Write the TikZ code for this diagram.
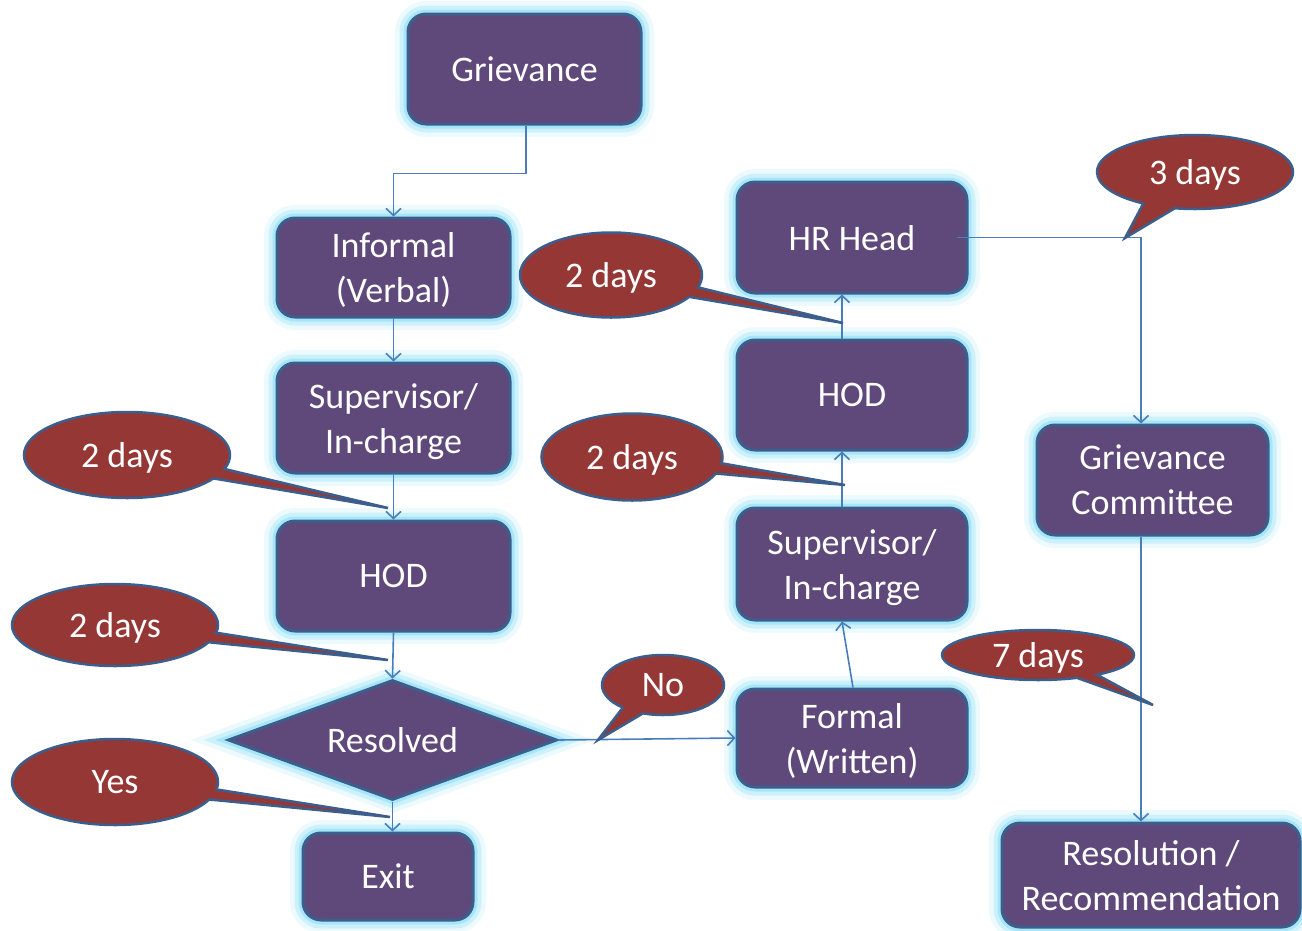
\documentclass[tikz,border=0pt]{standalone}
\usepackage{fontspec}
\setmainfont{Carlito}
\usetikzlibrary{shapes.geometric,shapes.callouts,arrows.meta}
\definecolor{boxfill}{HTML}{5F497A}
\definecolor{boxline}{HTML}{3B5E8C}
\definecolor{glowc}{HTML}{9FE4F7}
\definecolor{callfill}{HTML}{953735}
\definecolor{conncol}{HTML}{4A7EBB}
\begin{document}
\begin{tikzpicture}[x=1pt,y=-1pt,
  font=\fontsize{36}{45}\selectfont,
  glowing/.style={preaction={draw=glowc,line width=26pt,opacity=0.2},
                  preaction={draw=glowc,line width=17pt,opacity=0.4},
                  preaction={draw=glowc,line width=9pt,opacity=0.85}},
  box/.style={glowing, draw=boxline, line width=3pt, fill=boxfill, rounded corners=18pt,
              text=white, align=center, inner sep=0pt, text depth=0pt},
  decision/.style={glowing, diamond, draw=boxline, line width=3pt, fill=boxfill,
              text=white, inner sep=0pt, text depth=0pt},
  call/.style={ellipse callout, draw=boxline, line width=2.5pt, fill=callfill,
              text=white, inner sep=0pt, text depth=0pt, callout pointer arc=14},
  conn/.style={draw=conncol, line width=1.6pt, -{Straight Barb[length=7pt,width=15pt]}}]
\useasboundingbox (0,0) rectangle (1302,930);
% boxes
\node[box, minimum width=233pt, minimum height=110pt] (griev) at (524.5,69) {Grievance};
\node[box, minimum width=233pt, minimum height=99pt] (inf) at (393.5,267.5) {Informal\\(Verbal)};
\node[box, minimum width=233pt, minimum height=110pt] (sup1) at (393.5,418) {Supervisor/\\In-charge};
\node[box, minimum width=233pt, minimum height=110pt] (hod1) at (393.5,576) {HOD};
\node[decision, aspect=2.74, minimum width=329pt, minimum height=120pt] (resd) at (392.5,740) {Resolved};
\node[box, minimum width=170pt, minimum height=87pt] (exit) at (388,876.5) {Exit};
\node[box, minimum width=230pt, minimum height=111pt] (hr) at (852,237.5) {HR Head};
\node[box, minimum width=230pt, minimum height=110pt] (hod2) at (852,395) {HOD};
\node[box, minimum width=230pt, minimum height=112pt] (sup2) at (852,564) {Supervisor/\\In-charge};
\node[box, minimum width=230pt, minimum height=98pt] (formal) at (852,738) {Formal\\(Written)};
\node[box, minimum width=231pt, minimum height=110pt] (gc) at (1152.5,480) {Grievance\\Committee};
\node[box, minimum width=298pt, minimum height=104pt] (res) at (1151,875) {Resolution /\\Recommendation};
% connectors
\draw[conn] ([xshift=1.5pt]griev.south) -- ++(0,48) -| (inf.north);
\draw[conn] (inf.south) -- (sup1.north);
\draw[conn] (sup1.south) -- (hod1.north);
\draw[conn] (hod1.south) -- (resd.north);
\draw[conn] (resd.south) -- (resd.south |- exit.north);
\draw[conn] (resd.east) -- (formal.west);
\draw[conn] ([xshift=1pt]formal.north) -- ([xshift=-10pt]sup2.south);
\draw[conn] ([xshift=-10pt]sup2.north) -- ([xshift=-10pt]hod2.south);
\draw[conn] ([xshift=-10pt]hod2.north) -- ([xshift=-10pt]hr.south);
\draw[conn] ([xshift=-12pt]hr.east) -| ([xshift=-11.5pt]gc.north);
\draw[conn] ([xshift=-11.5pt]gc.south) -- ([xshift=-11.5pt]gc.south |- res.north);
% callout tips
\coordinate (t1) at (388,508);
\coordinate (t2) at (388,660);
\coordinate (t3) at (390,817);
\coordinate (t4) at (598,740);
\coordinate (t5) at (843,323);
\coordinate (t6) at (845,485);
\coordinate (t7) at (1125,238);
\coordinate (t8) at (1153,705);
% callouts
\node[call, minimum width=206pt, minimum height=86pt, callout absolute pointer={(t1)}] (c1) at (127,455) {2 days};
\node[call, minimum width=206pt, minimum height=82pt, callout absolute pointer={(t2)}] (c2) at (115,625) {2 days};
\node[call, minimum width=206pt, minimum height=86pt, callout absolute pointer={(t3)}] (c3) at (115,782) {Yes};
\node[call, minimum width=122pt, minimum height=60pt, callout absolute pointer={(t4)}, callout pointer arc=22] (c4) at (663,685) {No};
\node[call, minimum width=182pt, minimum height=85pt, callout absolute pointer={(t5)}] (c5) at (611,275) {2 days};
\node[call, minimum width=181pt, minimum height=87pt, callout absolute pointer={(t6)}] (c6) at (632,457) {2 days};
\node[call, minimum width=196pt, minimum height=74pt, callout absolute pointer={(t7)}, callout pointer arc=20] (c7) at (1195,172) {3 days};
\node[call, minimum width=192pt, minimum height=50pt, callout absolute pointer={(t8)}] (c8) at (1038,655) {7 days};
\end{tikzpicture}
\end{document}
